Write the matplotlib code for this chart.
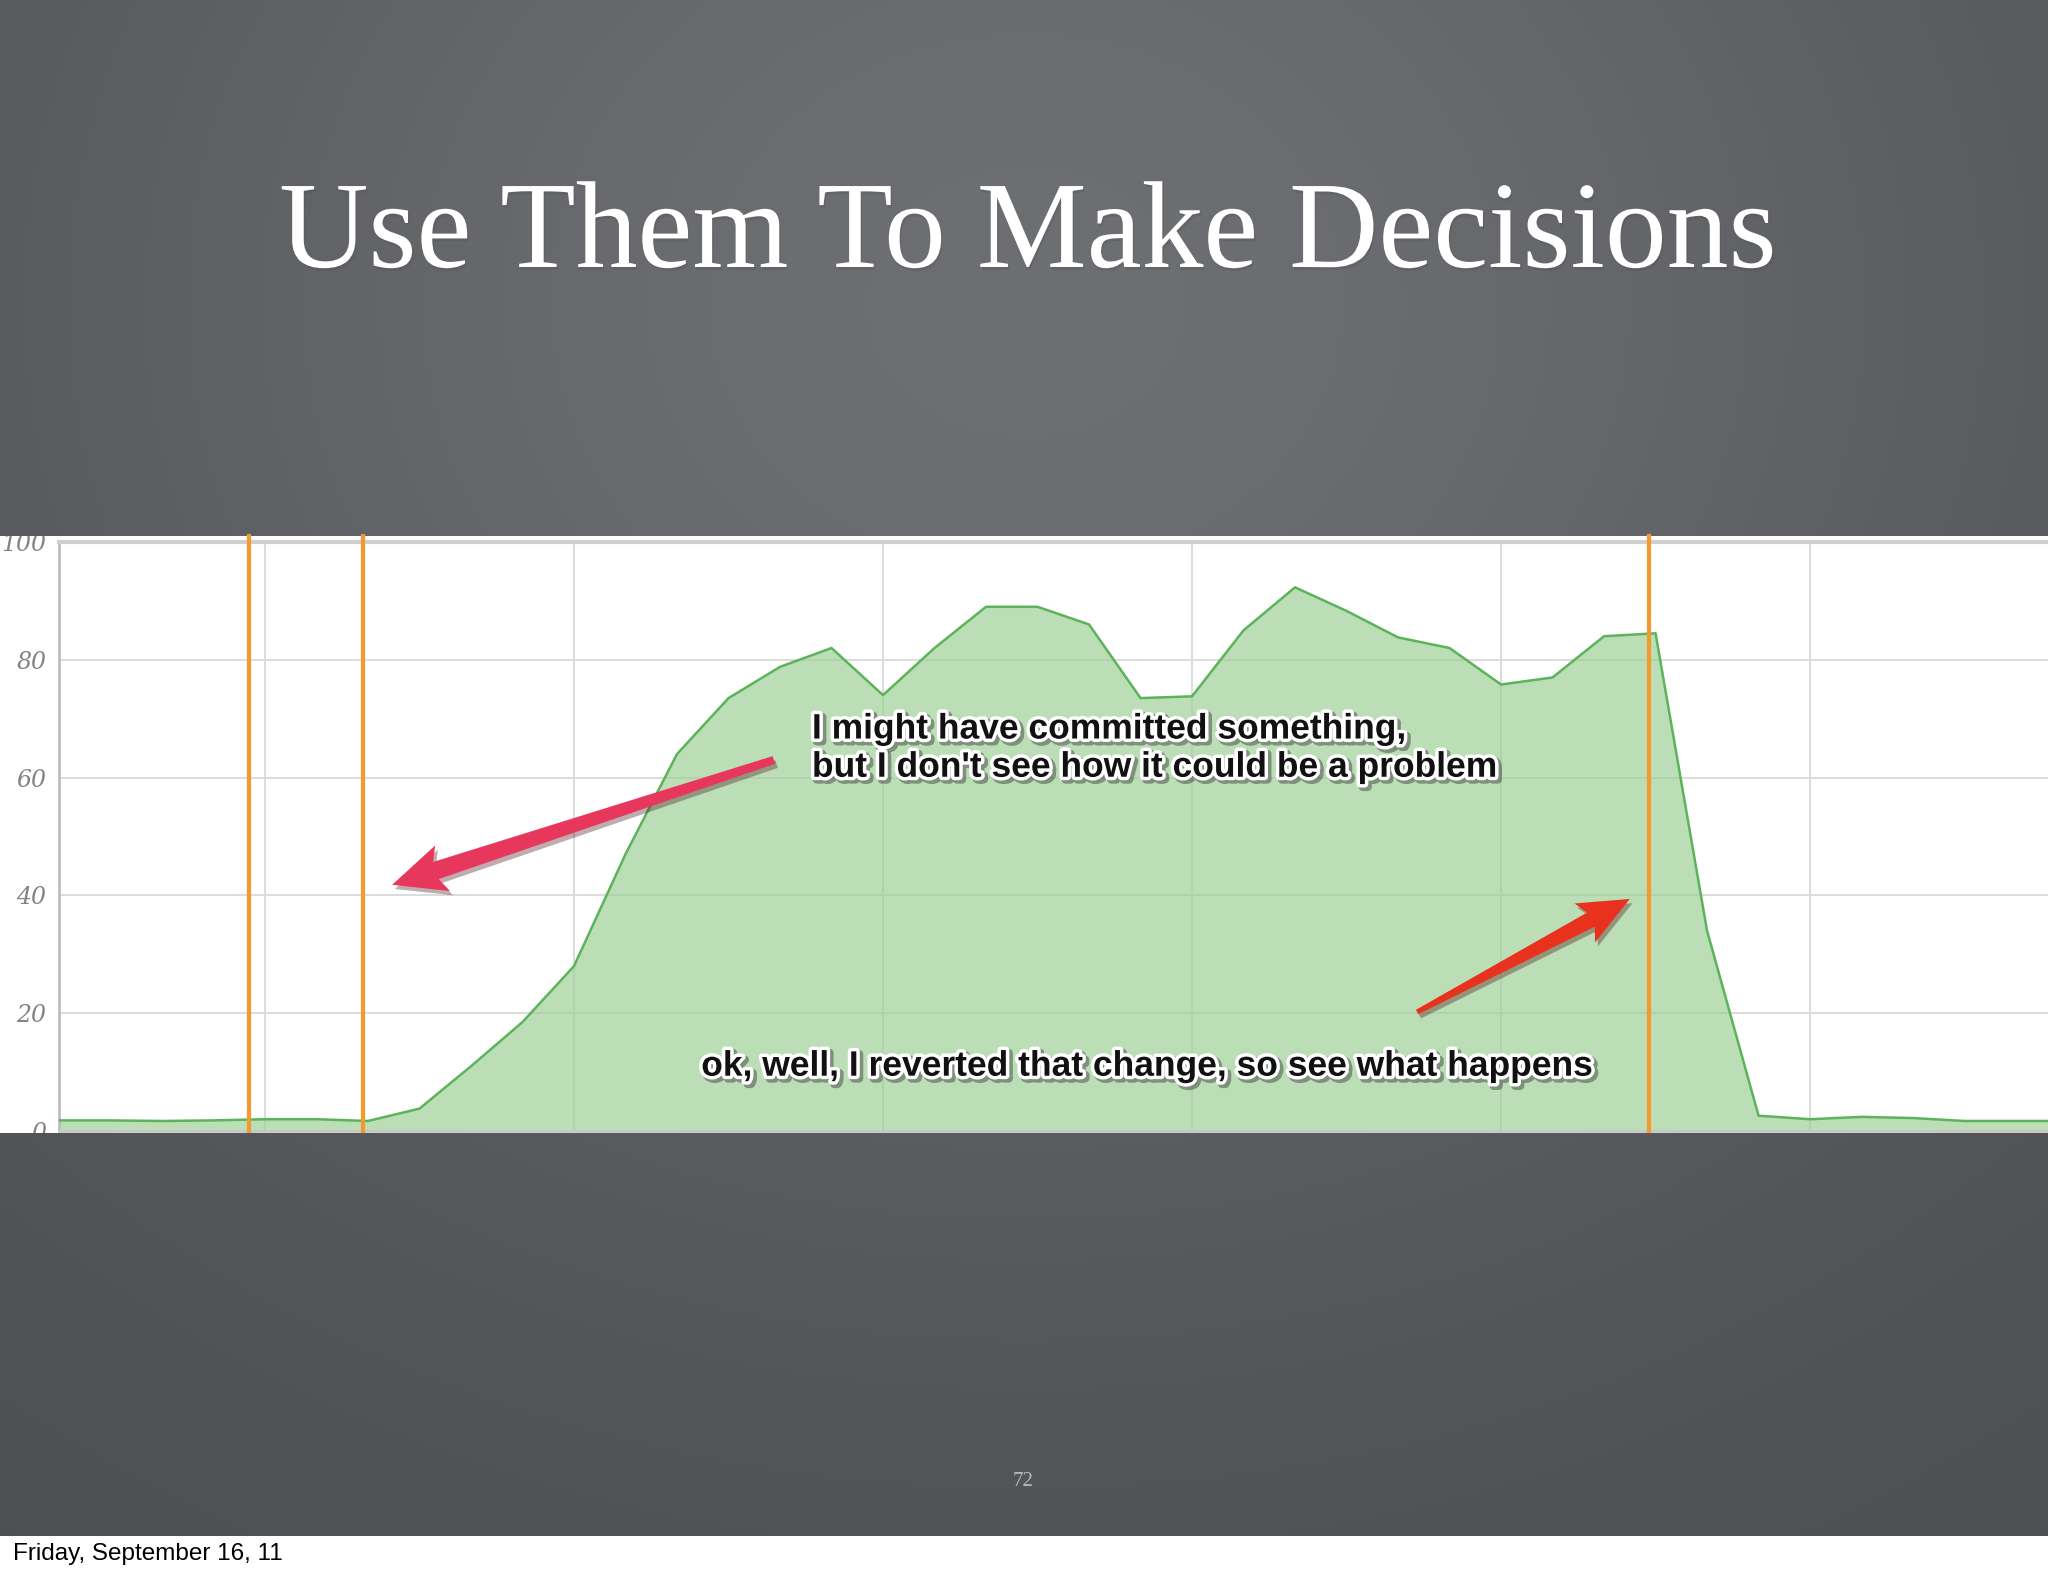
import matplotlib
matplotlib.use('Agg')
import matplotlib.pyplot as plt
import matplotlib.patheffects as pe
from matplotlib.patches import Polygon
from matplotlib.transforms import IdentityTransform
import numpy as np

# minutes from the first hourly gridline, one sample every 10 minutes
minutes = [-40, -30, -20, -10, 0, 10, 20, 30, 40, 50, 60, 70, 80, 90, 100,
           110, 120, 130, 140, 150, 160, 170, 180, 190, 200, 210, 220, 230,
           240, 250, 260, 270, 280, 290, 300, 310, 320, 330, 340, 350]
load = [1.8, 1.8, 1.7, 1.8, 2.0, 2.0, 1.7, 3.8, 11.0, 18.5, 28.0, 47.0, 64.0,
        73.5, 78.8, 82.0, 74.0, 82.0, 89.0, 89.0, 86.0, 73.5, 73.8, 85.0, 92.3,
        88.3, 83.8, 82.0, 75.8, 77.0, 84.0, 84.5, 34.0, 2.6, 2.0, 2.4, 2.2,
        1.7, 1.7, 1.7]
deploys = [-3.1, 19.0, 268.7]
yticks = [0, 20, 40, 60, 80, 100]
xgrid = [0, 60, 120, 180, 240, 300]

title = 'Use Them To Make Decisions'
note1 = "I might have committed something,\nbut I don't see how it could be a problem"
note2 = 'ok, well, I reverted that change, so see what happens'
# arrow (tail, tip) in data units
arrow1 = [(98.8, 63.0), (24.7, 41.8)]
arrow2 = [(223.7, 20.2), (265.0, 39.4)]

W, H = 2048, 1576
fig = plt.figure(figsize=(W / 100, H / 100), dpi=100, facecolor='white')

# slide background: dark grey with a softly lighter top centre
bg = fig.add_axes([0, 40 / H, 1, 1536 / H])
yy, xx = np.mgrid[0:1536:4, 0:2048:4]
r2 = ((xx - 1024) / 1300.0) ** 2 + ((yy - 300) / 1100.0) ** 2
v = 0.30 + 0.13 * np.exp(-1.4 * r2)
img = np.dstack([v, v + 0.004, v + 0.018])
bg.imshow(np.clip(img, 0, 1), aspect='auto', extent=[0, 1, 0, 1])
bg.axis('off')

# white strip holding the screenshot of the graph
strip = fig.add_axes([0, (H - 1133) / H, 1, (1133 - 536) / H])
strip.set_facecolor('white')
strip.set_xticks([]); strip.set_yticks([])
for s in strip.spines.values():
    s.set_visible(False)

ax = fig.add_axes([59 / W, (H - 1131) / H, (W - 59) / W, (1131 - 542) / H])
ax.set_facecolor('white')
ax.set_xlim(-40, 346.2)
ax.set_ylim(0, 100)
ax.set_axisbelow(True)

ax.fill_between(minutes, load, color='#9fd098', alpha=0.7, lw=0, zorder=2)
ax.plot(minutes, load, color='#5cb35a', lw=1.8, zorder=3)
for d in deploys:
    ax.axvline(d, ymin=0, ymax=1.011, color='#f39a2e', lw=3.0, clip_on=False, zorder=4)

ax.set_xticks(xgrid)
ax.set_yticks(yticks)
ax.grid(True, color='#dcdcdc', lw=1.4)
ax.tick_params(axis='x', length=0, labelbottom=False)
ax.tick_params(axis='y', length=0, pad=9, labelsize=17, labelcolor='#828282')
for lbl in ax.get_yticklabels():
    lbl.set_fontfamily('DejaVu Serif')
    lbl.set_fontstyle('italic')
for tk in ax.yaxis.get_major_ticks():
    tk.label1.set_clip_on(True)
    tk.label1.set_clip_box(strip.bbox)
ax.spines['right'].set_visible(False)
ax.spines['left'].set_color('#bdbdbd')
ax.spines['left'].set_linewidth(2)
ax.spines['top'].set_color('#cfcfcf')
ax.spines['top'].set_linewidth(3)
ax.spines['bottom'].set_color('#c8c8c8')
ax.spines['bottom'].set_linewidth(2)

# skitch style callouts
note_fx = [pe.Stroke(linewidth=6, foreground='#333333', alpha=0.45, offset=(2, -2)),
           pe.Stroke(linewidth=5, foreground='white'), pe.Normal()]
ax.text(106.2, 65.0, note1, ha='left', va='center', fontsize=25.5, fontweight='bold',
        family='Liberation Sans', color='#111111', linespacing=1.2,
        path_effects=note_fx, zorder=6)
ax.text(84.7, 11.0, note2, ha='left', va='center', fontsize=25.5, fontweight='bold',
        family='Liberation Sans', color='#111111', path_effects=note_fx, zorder=6)


def skitch_arrow(ax, tail, tip, w_tail, w_neck, head_w, head_len, color):
    # tapered shaft with a wide head, built in pixel space so it keeps its shape
    p0 = ax.transData.transform(tail)
    p1 = ax.transData.transform(tip)
    u = (p1 - p0) / np.hypot(*(p1 - p0))
    n = np.array([-u[1], u[0]])
    base = p1 - u * head_len
    pts = [p0 + n * w_tail, base + n * w_neck, base + n * head_w - u * 7, p1,
           base - n * head_w - u * 7, base - n * w_neck, p0 - n * w_tail]
    poly = Polygon(pts, closed=True, facecolor=color, edgecolor='none',
                   transform=IdentityTransform(), zorder=7)
    poly.set_path_effects([pe.SimplePatchShadow(offset=(2, -3), alpha=0.35), pe.Normal()])
    ax.add_patch(poly)


skitch_arrow(ax, arrow1[0], arrow1[1], 4, 9, 24, 46, '#e8375c')
skitch_arrow(ax, arrow2[0], arrow2[1], 2.5, 8, 22, 44, '#e8321e')

fig.text(1028 / W, (H - 267) / H, title, ha='center', va='baseline', color='white',
         fontsize=89, family='Liberation Serif',
         path_effects=[pe.withSimplePatchShadow(offset=(1, -2), alpha=0.25)])
fig.text(1023 / W, (H - 1482) / H, '72', ha='center', va='center', color='#b8b8b8',
         fontsize=15, family='Liberation Serif')
fig.text(13 / W, (H - 1554) / H, 'Friday, September 16, 11', ha='left', va='center',
         color='black', fontsize=17.5, family='Liberation Sans')

fig.savefig('out.png', dpi=100, facecolor='white')
